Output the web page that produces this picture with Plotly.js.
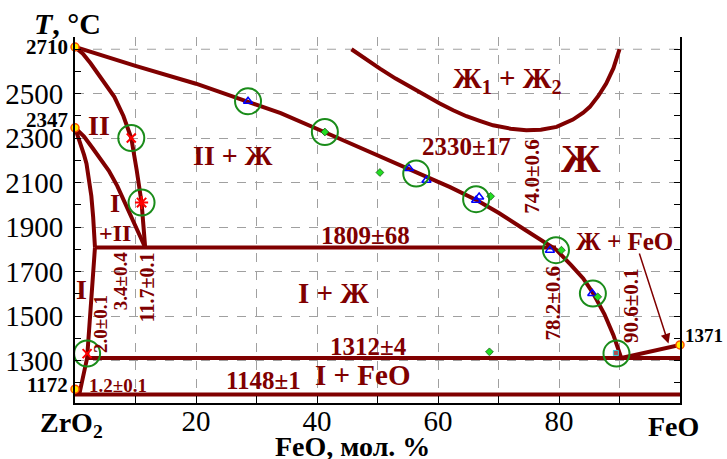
<!DOCTYPE html>
<html>
<head>
<meta charset="utf-8">
<script src="https://cdn.plot.ly/plotly-3.0.1.min.js"></script>
<style>html,body{margin:0;padding:0;background:#fff;}#chart{width:727px;height:459px;}</style>
</head>
<body>
<div id="chart"></div>
<script>
// ---- phase boundary lines (FeO mol.%, T °C) ----
const liquidusX = [0, 10, 20, 28.6, 34, 41.2, 50, 56.4, 62, 66.5, 70, 74.3, 77, 79.5, 82, 84, 85.6, 87.5, 89, 90.3];
const liquidusY = [2710, 2625, 2545, 2466, 2413, 2328, 2225, 2150, 2080, 2020, 1965, 1890, 1845, 1800, 1730, 1670, 1605, 1510, 1415, 1312];

const zr2SolidusX = [0, 1.3, 2.6, 4.5, 6.5, 8, 9.3, 10.2, 11.0, 11.3, 11.6];
const zr2SolidusY = [2710, 2680, 2636, 2565, 2486, 2400, 2301, 2156, 2011, 1910, 1809];

const upperBoundX = [0, 1.5, 2.9, 4.3, 5.6, 7, 8.4, 9.5, 10.6, 11.6];
const upperBoundY = [2347, 2308, 2256, 2205, 2154, 2085, 2000, 1935, 1870, 1809];

const lowerBoundX = [0, 0.5, 1.0, 1.5, 1.9, 2.3, 2.7, 3.0, 3.2, 3.3];
const lowerBoundY = [2347, 2310, 2270, 2225, 2186, 2120, 2040, 1946, 1875, 1809];

const solvusX = [3.3, 2.0, 0.7];
const solvusY = [1809, 1312, 1148];

const eut1809X = [3.3, 79.5];   const eut1809Y = [1809, 1809];
const eut1312X = [2.0, 100];    const eut1312Y = [1312, 1312];
const eut1148X = [0, 100];      const eut1148Y = [1148, 1148];

const feoLiqX = [90.3, 100];    const feoLiqY = [1312, 1371];

const gapX = [45.7, 48, 50.4, 53, 55.9, 58, 60.3, 62.5, 64.7, 67, 69.1, 72, 74.6, 77, 79.6, 82.3, 84, 85.1, 86.5, 87.8, 89, 90];
const gapY = [2700, 2655, 2613, 2568, 2523, 2488, 2456, 2426, 2399, 2377, 2358, 2343, 2336, 2338, 2351, 2384, 2415, 2441, 2490, 2546, 2615, 2700];

// ---- experimental points ----
const circleX = [9.3, 11.0, 28.6, 41.3, 56.4, 66.3, 79.5, 85.6, 89.5, 2.0];
const circleY = [2301, 2011, 2466, 2328, 2141, 2026, 1797, 1602, 1332, 1332];

const triX = [28.6, 55.2, 58.1, 66.3, 66.8, 78.5, 85.5];
const triY = [2466, 2164, 2111, 2021, 2036, 1797, 1602];

const diaX = [41.3, 50.4, 68.7, 80.4, 86.4, 68.5];
const diaY = [2328, 2146, 2039, 1797, 1587, 1340];

const crossX = [9.3, 2.0];      const crossY = [2301, 1332];
const starX = [11.0];           const starY = [2011];
const sqX = [89.4];             const sqY = [1335];

const pureX = [0, 0, 0, 100];
const pureY = [2710, 2347, 1172, 1371];

// ---- ticks ----
const xTickVals = [20, 40, 60, 80];
const xTickText = ['20', '40', '60', '80'];
const yTickVals = [1300, 1500, 1700, 1900, 2100, 2300, 2500];
const yTickText = ['1300', '1500', '1700', '1900', '2100', '2300', '2500'];
const yTopGrid = 2700;

const RED = '#800000';
const FONT = 'Liberation Serif';
const GRID = '#a0a0a0';

function line(x, y) {
  return {x: x, y: y, type: 'scatter', mode: 'lines', line: {color: RED, width: 4}, hoverinfo: 'skip', showlegend: false};
}

const traces = [
  line(gapX, gapY),
  line(eut1148X, eut1148Y),
  line(eut1312X, eut1312Y),
  line(eut1809X, eut1809Y),
  line(feoLiqX, feoLiqY),
  line(solvusX, solvusY),
  line(lowerBoundX, lowerBoundY),
  line(upperBoundX, upperBoundY),
  line(zr2SolidusX, zr2SolidusY),
  line(liquidusX, liquidusY),
  {x: triX, y: triY, type: 'scatter', mode: 'markers', showlegend: false,
   marker: {symbol: 'triangle-up-open', size: 8, color: '#0000ff', line: {width: 1.5, color: '#0000ff'}}},
  {x: diaX, y: diaY, type: 'scatter', mode: 'markers', showlegend: false,
   marker: {symbol: 'diamond', size: 6, color: '#22dd22', line: {width: 0.8, color: '#1a5a1a'}}},
  {x: crossX, y: crossY, type: 'scatter', mode: 'markers', showlegend: false,
   marker: {symbol: 'x-thin-open', size: 9, color: '#ff0000', line: {width: 2, color: '#ff0000'}}},
  {x: starX, y: starY, type: 'scatter', mode: 'markers', showlegend: false,
   marker: {symbol: 'asterisk-open', size: 11, color: '#ff0000', line: {width: 2, color: '#ff0000'}}},
  {x: sqX, y: sqY, type: 'scatter', mode: 'markers', showlegend: false,
   marker: {symbol: 'square', size: 5, color: '#b05050', line: {width: 1, color: '#30d0e0'}}},
  {x: circleX, y: circleY, type: 'scatter', mode: 'markers', showlegend: false,
   marker: {symbol: 'circle-open', size: 26, color: '#1a8c1a', line: {width: 2, color: '#1a8c1a'}}},
  {x: pureX, y: pureY, type: 'scatter', mode: 'markers', showlegend: false, cliponaxis: false,
   marker: {symbol: 'circle', size: 8, color: '#ffee00', line: {width: 1.5, color: '#ff5000'}}}
];

function lab(x, y, text, size, angle) {
  return {x: x, y: y, xref: 'x', yref: 'y', text: '<b>' + text + '</b>', showarrow: false,
          textangle: angle || 0, font: {family: FONT, size: size, color: RED}};
}
function edge(x, y, text, anchor, shift, size) {
  return {xref: 'paper', yref: 'y', x: x, y: y, text: '<b>' + text + '</b>', showarrow: false,
          xanchor: anchor, xshift: shift, font: {family: FONT, size: size, color: '#000'}};
}

const annotations = [
  lab(4.0, 2358, 'II', 28),
  lab(6.6, 2006, 'I', 26),
  lab(6.6, 1872, '+II', 24),
  lab(1.05, 1622, 'I', 28),
  lab(26.1, 2224, 'II + Ж', 28),
  lab(71.5, 2561, 'Ж<sub>1</sub> + Ж<sub>2</sub>', 29),
  lab(64.7, 2261, '2330±17', 25),
  lab(75.6, 2129, '74.0±0.6', 21, -90),
  lab(83.7, 2209, 'Ж', 40),
  lab(48.0, 1865, '1809±68', 25),
  lab(90.9, 1834, 'Ж + FeO', 25),
  lab(42.7, 1606, 'I + Ж', 29),
  lab(79.0, 1561, '78.2±0.6', 21, -90),
  lab(92.0, 1549, '90.6±0.1', 21, -90),
  lab(48.5, 1362, '1312±4', 25),
  lab(31.2, 1209, '1148±1', 25),
  lab(47.6, 1235, 'I + FeO', 29),
  lab(7.1, 1187, '1.2±0.1', 19),
  lab(4.2, 1467, '2.0±0.1', 19, -90),
  lab(7.5, 1659, '3.4±0.4', 19, -90),
  lab(11.9, 1630, '11.7±0.1', 20, -90),
  {x: 98.1, y: 1377, ax: 93.2, ay: 1789, xref: 'x', yref: 'y', axref: 'x', ayref: 'y', text: '',
   showarrow: true, arrowhead: 2, arrowsize: 1.3, arrowwidth: 1.5, arrowcolor: RED},
  edge(0, 2710, '2710', 'right', -5, 21),
  edge(0, 2380, '2347', 'right', -5, 21),
  edge(0, 1190, '1172', 'right', -5, 21),
  edge(1, 1415, '1371', 'left', 3, 19),
  {xref: 'paper', yref: 'paper', x: -0.012, y: 1.038, xanchor: 'center', yanchor: 'middle', showarrow: false,
   text: '<b><i>T</i>, °C</b>', font: {family: FONT, size: 30, color: '#000'}},
  {xref: 'paper', yref: 'paper', x: 0.4595, y: -0.119, xanchor: 'center', yanchor: 'middle', showarrow: false,
   text: '<b>FeO, мол. %</b>', font: {family: FONT, size: 28, color: '#000'}},
  {xref: 'paper', yref: 'paper', x: -0.005, y: -0.06, xanchor: 'center', yanchor: 'middle', showarrow: false,
   text: '<b>ZrO<sub>2</sub></b>', font: {family: FONT, size: 28, color: '#000'}},
  {xref: 'paper', yref: 'paper', x: 0.989, y: -0.063, xanchor: 'center', yanchor: 'middle', showarrow: false,
   text: '<b>FeO</b>', font: {family: FONT, size: 28, color: '#000'}}
];

const layout = {
  width: 727, height: 459,
  margin: {l: 75, r: 47, t: 37, b: 56, pad: 0},
  paper_bgcolor: '#fff', plot_bgcolor: '#fff',
  font: {family: FONT, size: 29, color: '#000'},
  showlegend: false,
  xaxis: {
    range: [0, 100], tickmode: 'array', tickvals: xTickVals, ticktext: xTickText,
    ticks: 'inside', ticklen: 7, tickwidth: 1, tickcolor: '#000',
    minor: {tickmode: 'linear', tick0: 0, dtick: 10, ticks: 'inside', ticklen: 7, tickwidth: 1, tickcolor: '#000',
            showgrid: true, gridcolor: GRID, gridwidth: 1, griddash: 'dash'},
    showline: true, linecolor: '#000', linewidth: 2, mirror: false,
    showgrid: true, gridcolor: GRID, gridwidth: 1, griddash: 'dash',
    zeroline: false, ticklabelstandoff: -9, tickfont: {family: FONT, size: 29, color: '#000'}
  },
  yaxis: {
    range: [1110, 2755], tickmode: 'array', tickvals: yTickVals, ticktext: yTickText,
    ticks: 'inside', ticklen: 6, tickwidth: 1, tickcolor: '#000',
    minor: {tickmode: 'linear', tick0: 1100, dtick: 100, ticks: 'inside', ticklen: 6, tickwidth: 1, tickcolor: '#000', showgrid: false},
    showline: true, linecolor: '#000', linewidth: 2, mirror: 'ticks',
    showgrid: true, gridcolor: GRID, gridwidth: 1, griddash: 'dash',
    zeroline: false, ticklabelstandoff: 4, tickfont: {family: FONT, size: 29, color: '#000'}
  },
  shapes: [
    {type: 'line', xref: 'paper', yref: 'y', x0: 0, x1: 1, y0: yTopGrid, y1: yTopGrid, layer: 'below',
     line: {color: GRID, width: 1, dash: 'dash'}}
  ],
  annotations: annotations
};

Plotly.newPlot('chart', traces, layout, {displayModeBar: false, staticPlot: true});
</script>
</body>
</html>
